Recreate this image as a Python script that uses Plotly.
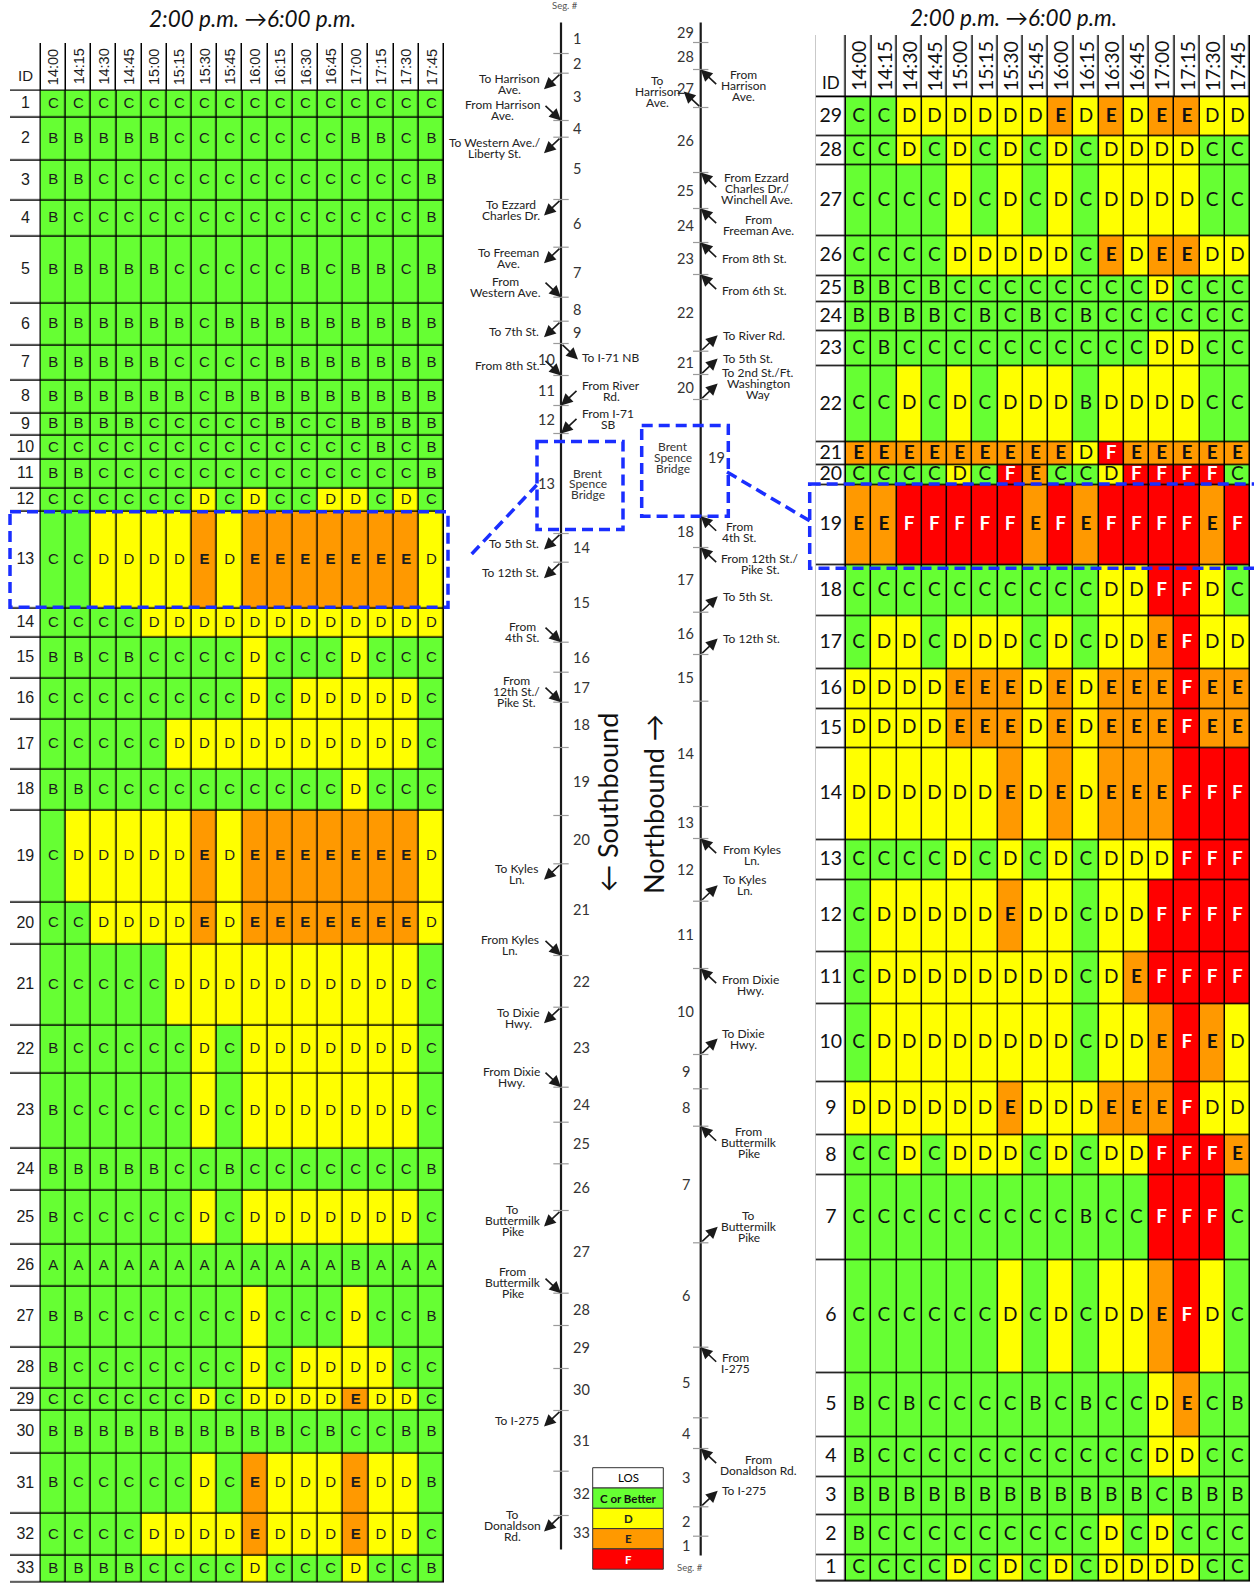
import numpy as np
import plotly.graph_objects as go

W, H = 1254, 1583

# ---------------- data ----------------
times = ["14:00", "14:15", "14:30", "14:45", "15:00", "15:15", "15:30", "15:45",
         "16:00", "16:15", "16:30", "16:45", "17:00", "17:15", "17:30", "17:45"]

los_levels = ["A", "B", "C", "D", "E", "F"]
legend_labels = ["LOS", "C or Better", "D", "E", "F"]

# Southbound table (segment ID, relative row height, LOS per 15-min period)
sb_ids = list(range(1, 34))
sb_row_h = [27, 43, 40, 36, 67.3, 41.3, 35.7, 32.3, 22.7, 24, 28.3, 23.4, 96.6, 29.4,
            40.6, 41.7, 49.3, 41.7, 91.3, 42.7, 80.7, 47.6, 75.7, 42, 54, 41.7, 60.6,
            41.7, 22, 42.3, 60.7, 41.7, 27]
sb_los = [
    "CCCCCCCCCCCCCCCC",  # 1
    "BBBBBCCCCCCCBBCB",  # 2
    "BBCCCCCCCCCCCCCB",  # 3
    "BCCCCCCCCCCCCCCB",  # 4
    "BBBBBCCCCCBCBBCB",  # 5
    "BBBBBBCBBBBBBBBB",  # 6
    "BBBBBCCCCBBBBBBB",  # 7
    "BBBBBBCBBBBBBBBB",  # 8
    "BBBBCCCCCBCCBBBB",  # 9
    "CCCCCCCCCCCCCBCB",  # 10
    "BBCCCCCCCCCCCCCB",  # 11
    "CCCCCCDCDCCDDCDC",  # 12
    "CCDDDDEDEEEEEEED",  # 13
    "CCCCDDDDDDDDDDDD",  # 14
    "BBCBCCCCDCCCDCCC",  # 15
    "CCCCCCCCDCDDDDDC",  # 16
    "CCCCCDDDDDDDDDDC",  # 17
    "BBCCCCCCCCCCDCCC",  # 18
    "CDDDDDEDEEEEEEED",  # 19
    "CCDDDDEDEEEEEEED",  # 20
    "CCCCCDDDDDDDDDDC",  # 21
    "BCCCCCDCDDDDDDDC",  # 22
    "BCCCCCDCDDDDDDDC",  # 23
    "BBBBBCCBCCCCCCCB",  # 24
    "BCCCCCDCDDDDDDDC",  # 25
    "AAAAAAAAAAAABAAA",  # 26
    "BBCCCCCCDCCCDCCB",  # 27
    "BCCCCCCCDCDDDDCC",  # 28
    "CCCCCCDCDDDDEDDC",  # 29
    "BBBBBBBBBBCBCCBB",  # 30
    "BCCCCCDCEDDDEDDB",  # 31
    "CCCCDDDDEDDDEDDC",  # 32
    "BBBBCCCCDCCCDCCB",  # 33
]

# Northbound table (listed top to bottom: segment 29 ... 1)
nb_ids = list(range(29, 0, -1))
nb_row_h = [39.4, 29, 71, 39.3, 26.7, 29, 35, 76, 22.3, 20, 80.7, 50.6, 53.4, 39.3,
            39.3, 92.4, 39.3, 72.3, 51.7, 78.3, 53.4, 40, 84.3, 113, 64.3, 40, 38.4,
            39.3, 26.7]
nb_los = [
    "CCDDDDDDEDEDEEDD",  # 29
    "CCDCDCDCDCDDDDCC",  # 28
    "CCCCDCDCDCDDDDCC",  # 27
    "CCCCDDDDDCEDEEDD",  # 26
    "BBCBCCCCCCCCDCCC",  # 25
    "BBBBCBCBCBCCCCCC",  # 24
    "CBCCCCCCCCCCDDCC",  # 23
    "CCDCDCDDDBDDDDCC",  # 22
    "EEEEEEEEEDFEEEEE",  # 21
    "CCCCDCFECCDFFFFC",  # 20
    "EEFFFFFEFEFFFFEF",  # 19
    "CCCCCCCCCCDDFFDC",  # 18
    "CDDCDDDCDCDDEFDD",  # 17
    "DDDDEEEDEDEEEFEE",  # 16
    "DDDDEEEDEDEEEFEE",  # 15
    "DDDDDDEDEDEEEFFF",  # 14
    "CCCCDCDCDCDDDFFF",  # 13
    "CDDDDDEDDCDDFFFF",  # 12
    "CDDDDDDDDCDEFFFF",  # 11
    "CDDDDDDDDCDDEFED",  # 10
    "DDDDDDEDDDEEEFDD",  # 9
    "CCDCDDDCDCDDFFFE",  # 8
    "CCCCCCCCCBCCFFFC",  # 7
    "CCCCCCDCDCDDEFDC",  # 6
    "BCBCCCCBCBCCDECB",  # 5
    "BCCCCCCCCCCCDDCC",  # 4
    "BBBBBBBBBBBBCBBB",  # 3
    "BCCCCCCCCCDCDCCC",  # 2
    "CCCCDCDCDCDDDDCC",  # 1
]

# Schematic: relative segment lengths along the route
sb_seg_len = [31, 19.7, 47.3, 16.7, 62.3, 47.7, 50, 24, 22.3, 32, 30, 28, 100, 28.7, 80,
              30, 30, 45.3, 68, 48.3, 91.7, 51.7, 80, 35, 41.6, 46.7, 82.7, 32.3, 43, 42,
              60.7, 44.3, 34]
nb_seg_len = [20, 27, 38, 65, 36, 34, 32, 76.7, 23.3, 25, 116.7, 31.3, 64.7, 42.3, 46.7,
              105.3, 32, 62.7, 67.3, 86, 34.3, 37.4, 116.6, 104.4, 70.6, 30.7, 58.3, 29.4,
              19.3]

# ramps: (segment whose end the ramp sits at, label, on/off, side)
sb_ramps = [
    (2, "To Harrison<br>Ave.", "off", "L"),
    (3, "From Harrison<br>Ave.", "on", "L"),
    (4, "To Western Ave./<br>Liberty St.", "off", "L"),
    (5, "To Ezzard<br>Charles Dr.", "off", "L"),
    (6, "To Freeman<br>Ave.", "off", "L"),
    (7, "From<br>Western Ave.", "on", "L"),
    (8, "To 7th St.", "off", "L"),
    (9, "To I-71 NB", "off", "R"),
    (10, "From 8th St.", "on", "L"),
    (11, "From River<br>Rd.", "on", "R"),
    (12, "From I-71<br>SB", "on", "R"),
    (13, "To 5th St.", "off", "L"),
    (14, "To 12th St.", "off", "L"),
    (15, "From<br>4th St.", "on", "L"),
    (17, "From<br>12th St./<br>Pike St.", "on", "L"),
    (20, "To Kyles<br>Ln.", "off", "L"),
    (21, "From Kyles<br>Ln.", "on", "L"),
    (22, "To Dixie<br>Hwy.", "off", "L"),
    (23, "From Dixie<br>Hwy.", "on", "L"),
    (26, "To<br>Buttermilk<br>Pike", "off", "L"),
    (27, "From<br>Buttermilk<br>Pike", "on", "L"),
    (30, "To I-275", "off", "L"),
    (32, "To<br>Donaldson<br>Rd.", "off", "L"),
]
nb_ramps = [
    (28, "From<br>Harrison<br>Ave.", "on", "R"),
    (27, "To<br>Harrison<br>Ave.", "off", "L"),
    (26, "From Ezzard<br>Charles Dr./<br>Winchell Ave.", "on", "R"),
    (25, "From<br>Freeman Ave.", "on", "R"),
    (24, "From 8th St.", "on", "R"),
    (23, "From 6th St.", "on", "R"),
    (22, "To River Rd.", "off", "R"),
    (21, "To 5th St.", "off", "R"),
    (20, "To 2nd St./Ft.<br>Washington<br>Way", "off", "R"),
    (19, "From<br>4th St.", "on", "R"),
    (18, "From 12th St./<br>Pike St.", "on", "R"),
    (17, "To 5th St.", "off", "R"),
    (16, "To 12th St.", "off", "R"),
    (13, "From Kyles<br>Ln.", "on", "R"),
    (12, "To Kyles<br>Ln.", "off", "R"),
    (11, "From Dixie<br>Hwy.", "on", "R"),
    (10, "To Dixie<br>Hwy.", "off", "R"),
    (8, "From<br>Buttermilk<br>Pike", "on", "R"),
    (7, "To<br>Buttermilk<br>Pike", "off", "R"),
    (6, "From<br>I-275", "on", "R"),
    (4, "From<br>Donaldson Rd.", "on", "R"),
    (3, "To I-275", "off", "R"),
]
sb_bridge_seg = 13
nb_bridge_seg = 19
sb_label_left = {10, 11, 12, 13}
nb_label_right = {19}

# ---------------- styles ----------------
GREEN, YELLOW, ORANGE, RED, WHITE = "#66FF33", "#FFFF00", "#FF9900", "#FF0000", "#FFFFFF"
BLUE = "#1A2EFF"
INK = "#1a1a1a"
code = {c: i for i, c in enumerate(los_levels)}
WHITE_CODE = 6
CS = [[0, GREEN], [2.5 / 6, GREEN], [2.5 / 6, YELLOW], [3.5 / 6, YELLOW],
      [3.5 / 6, ORANGE], [4.5 / 6, ORANGE], [4.5 / 6, RED], [5.5 / 6, RED],
      [5.5 / 6, WHITE], [1, WHITE]]
ARIAL = "Liberation Sans, Arial, sans-serif"
CAL = "Lato, Open Sans, sans-serif"

fig = go.Figure()
annotations = []
shapes = []
layout_axes = {}


def est_w(s, fs):
    w = 0.0
    for ch in s:
        if ch == " ":
            w += 0.25
        elif ch in ".,:":
            w += 0.24
        elif ch in "/-":
            w += 0.36
        elif ch in "iIlj":
            w += 0.25
        elif ch in "ftr":
            w += 0.34
        elif ch in "mwMW":
            w += 0.82
        elif ch.isupper():
            w += 0.64
        elif ch.isdigit():
            w += 0.58
        else:
            w += 0.52
    return w * fs


def multiline(x, y, xref, yref, text, anchor, xshift, yshift, font, gap):
    lines = text.split("<br>")
    n = len(lines)
    bw = max(est_w(s, font["size"]) for s in lines)
    if anchor == "right":
        cx = xshift - bw / 2
    elif anchor == "left":
        cx = xshift + bw / 2
    else:
        cx = xshift
    for j, s in enumerate(lines):
        off = (j - (n - 1) / 2) * gap
        annotations.append(dict(x=x, y=y, xref=xref, yref=yref, text=s, showarrow=False,
                                xanchor="center", yanchor="middle", xshift=cx,
                                yshift=yshift - off, font=font))


def table(xn, yn, ids, row_h, los, left_px, right_px, top_px, hdr_h, id_w, pad_l, pad_r,
          fam, cell_fs, id_fs, hdr_fs, idlab_fs, txt_col, bold_set, white_set, box_seg,
          box_pad_l, box_pad_r, box_dy):
    ncol = len(times)
    colw = (right_px - left_px) / (ncol + id_w)
    pad_r = min(pad_r, W - right_px)
    edges = np.concatenate([[0.0], np.cumsum(row_h)])
    total = edges[-1]
    centers = (edges[:-1] + edges[1:]) / 2
    bottom_px = top_px + hdr_h + total
    ybot = total - max(0.0, bottom_px - H)
    ax_sfx = xn[1:]
    layout_axes["xaxis" + ax_sfx] = dict(
        domain=[(left_px - pad_l) / W, (right_px + pad_r) / W],
        range=[-id_w - pad_l / colw, ncol + pad_r / colw], visible=False)
    layout_axes["yaxis" + ax_sfx] = dict(
        domain=[max(0.0, 1 - bottom_px / H), 1 - top_px / H],
        range=[ybot, -hdr_h], visible=False)

    shapes.append(dict(type="rect", xref=xn, yref=yn, x0=-id_w, x1=ncol, y0=-hdr_h,
                       y1=total, fillcolor="#000000", line=dict(width=0), layer="below"))
    hm = dict(colorscale=CS, zmin=0, zmax=6, showscale=False, xgap=1.5, ygap=1.5,
              hoverinfo="skip", xaxis=xn, yaxis=yn)
    z = [[code[c] for c in row] for row in los]
    xe = np.arange(ncol + 1)
    fig.add_trace(go.Heatmap(x=xe, y=edges, z=z, **hm))
    fig.add_trace(go.Heatmap(x=[-id_w, 0], y=edges, z=[[WHITE_CODE]] * len(ids), **hm))
    fig.add_trace(go.Heatmap(x=np.concatenate([[-id_w], xe]), y=[-hdr_h, 0],
                             z=[[WHITE_CODE] * (ncol + 1)], **hm))

    xs, ys, tx, tc = [], [], [], []
    for r, row in enumerate(los):
        for c, ch in enumerate(row):
            xs.append(c + 0.5)
            ys.append(centers[r])
            tx.append("<b>%s</b>" % ch if ch in bold_set else ch)
            tc.append(WHITE if ch in white_set else txt_col)
    fig.add_trace(go.Scatter(x=xs, y=ys, text=tx, mode="text",
                             textfont=dict(family=fam, size=cell_fs, color=tc),
                             hoverinfo="skip", cliponaxis=False, xaxis=xn, yaxis=yn))
    fig.add_trace(go.Scatter(x=[-id_w / 2] * len(ids), y=centers, text=[str(i) for i in ids],
                             mode="text", textfont=dict(family=fam, size=id_fs, color=txt_col),
                             hoverinfo="skip", cliponaxis=False, xaxis=xn, yaxis=yn))
    for i, t in enumerate(times):
        annotations.append(dict(x=i + 0.5, y=-hdr_h / 2, xref=xn, yref=yn, text=t,
                                textangle=-90, showarrow=False, xanchor="center",
                                yanchor="middle",
                                font=dict(family=fam, size=hdr_fs, color=txt_col)))
    annotations.append(dict(x=-id_w / 2, y=-15, xref=xn, yref=yn, text="ID", showarrow=False,
                            xanchor="center", yanchor="middle",
                            font=dict(family=fam, size=idlab_fs, color=txt_col)))
    r = ids.index(box_seg)
    shapes.append(dict(type="rect", xref=xn, yref=yn, x0=-id_w - box_pad_l / colw,
                       x1=ncol + box_pad_r / colw, y0=edges[r] - box_dy[0],
                       y1=edges[r + 1] + box_dy[1], line=dict(color=BLUE, width=3.5,
                                                              dash="11px,6px"),
                       fillcolor="rgba(0,0,0,0)", layer="above"))


table("x", "y", sb_ids, sb_row_h, sb_los, 10, 444, 43, 47.7, 1.218, 4, 6,
      ARIAL, 15, 16, 14.5, 15, "#1c1c1c", {"E"}, set(), sb_bridge_seg, 0, 4, (0, -1))
table("x2", "y2", nb_ids, nb_row_h, nb_los, 815.7, 1250, 35, 62.3, 1.2, 10, 4,
      CAL, 19, 19.5, 19.5, 17, "#111111", {"E", "F"}, {"F"}, nb_bridge_seg, 6, 12, (1, 2.5))

# ---------------- schematic ----------------
layout_axes["xaxis3"] = dict(domain=[450 / W, 800 / W], range=[450, 800], visible=False)
layout_axes["yaxis3"] = dict(domain=[0, 1], range=[H - 22.5, -22.5], visible=False)
sb_x, nb_x = 561, 700.7
sb_b = np.concatenate([[0.0], np.cumsum(sb_seg_len)])
nb_b = np.concatenate([[0.0], np.cumsum(nb_seg_len)])
nb_end = {seg: nb_b[i + 1] for i, seg in enumerate(nb_ids)}
sb_end = {seg: sb_b[i + 1] for i, seg in enumerate(sb_ids)}

for lx, bnds in ((sb_x, sb_b), (nb_x, nb_b)):
    fig.add_trace(go.Scatter(x=[lx, lx], y=[bnds[0], bnds[-1]], mode="lines",
                             line=dict(color=INK, width=2.2), hoverinfo="skip",
                             xaxis="x3", yaxis="y3"))
    fig.add_trace(go.Scatter(x=[lx] * (len(bnds) - 2), y=bnds[1:-1], mode="markers",
                             marker=dict(symbol="line-ew", size=11,
                                         line=dict(color="#9a9a9a", width=1.2)),
                             hoverinfo="skip", xaxis="x3", yaxis="y3"))

SEGF = dict(family=CAL, size=14.5, color="#333333")
for k, seg in enumerate(sb_ids):
    mid = (sb_b[k] + sb_b[k + 1]) / 2
    left = seg in sb_label_left
    annotations.append(dict(x=sb_x, y=mid, xref="x3", yref="y3", text=str(seg),
                            showarrow=False, xanchor="right" if left else "left",
                            yanchor="middle", xshift=-4 if left else 10, font=SEGF))
for i, seg in enumerate(nb_ids):
    mid = (nb_b[i] + nb_b[i + 1]) / 2
    right = seg in nb_label_right
    annotations.append(dict(x=nb_x, y=mid, xref="x3", yref="y3", text=str(seg),
                            showarrow=False, xanchor="left" if right else "center",
                            yanchor="middle", xshift=5 if right else -15, font=SEGF))

RAMPF = dict(family=CAL, size=12, color="#222222")
LINE_GAP = 11


def ramp(line_x, b, text, kind, side, flow, label_k):
    sg = -1 if side == "L" else 1
    dx, dy = sg * 17, 16
    arrow = dict(x=line_x, y=b, xref="x3", yref="y3", text="", showarrow=True,
                 arrowhead=2, arrowsize=1.45, arrowwidth=1.6, arrowcolor=INK)
    if kind == "off":
        ex, ey = dx, flow * dy
        arrow.update(xshift=ex, yshift=-ey, ax=-ex, ay=-ey)
    else:
        ex, ey = dx, -flow * dy
        arrow.update(ax=ex, ay=ey)
    annotations.append(arrow)
    multiline(line_x, b, "x3", "y3", text, "right" if sg < 0 else "left",
              ex + (-4 if sg < 0 else 4), -ey * label_k, RAMPF, LINE_GAP)


for seg, text, kind, side in sb_ramps:
    ramp(sb_x, sb_end[seg], text, kind, side, 1, 0.65 if side == "L" else 0.9)
for seg, text, kind, side in nb_ramps:
    ramp(nb_x, nb_end[seg], text, kind, side, -1, 1.0)

# Brent Spence Bridge boxes
BOXLINE = dict(color=BLUE, width=3.5, dash="11px,6px")
BRF = dict(family=CAL, size=12, color="#333333")
k = sb_ids.index(sb_bridge_seg)
shapes.append(dict(type="rect", xref="x3", yref="y3", x0=sb_x - 24, x1=sb_x + 62,
                   y0=sb_b[k] + 8, y1=sb_b[k + 1] - 4, line=BOXLINE,
                   fillcolor="rgba(0,0,0,0)"))
multiline(sb_x, (sb_b[k] + sb_b[k + 1]) / 2, "x3", "y3", "Brent<br>Spence<br>Bridge",
          "center", 27, 0, BRF, 10.5)
i = nb_ids.index(nb_bridge_seg)
shapes.append(dict(type="rect", xref="x3", yref="y3", x0=nb_x - 59, x1=nb_x + 27.6,
                   y0=nb_b[i] + 26, y1=nb_b[i + 1], line=BOXLINE,
                   fillcolor="rgba(0,0,0,0)"))
multiline(nb_x, (nb_b[i] + nb_b[i + 1]) / 2, "x3", "y3", "Brent<br>Spence<br>Bridge",
          "center", -28, 0, BRF, 11)


def P(px, py):
    return px / W, 1 - py / H


for (x0, y0), (x1, y1) in (((471.7, 554), (536.7, 485)), ((727, 472), (810, 521))):
    a, b_ = P(x0, y0)
    c, d = P(x1, y1)
    shapes.append(dict(type="line", xref="paper", yref="paper", x0=a, y0=b_, x1=c, y1=d,
                       line=BOXLINE))


def paper_text(px, py, text, font, angle=0):
    x, y = P(px, py)
    annotations.append(dict(x=x, y=y, xref="paper", yref="paper", text=text,
                            textangle=angle, showarrow=False, xanchor="center",
                            yanchor="middle", font=font))


paper_text(607, 803, "← Southbound", dict(family=CAL, size=27, color="#111111"), -90)
paper_text(654, 804, "Northbound →", dict(family=CAL, size=27, color="#111111"), -90)
for px, py in ((565, 6), (690, 1567)):
    paper_text(px, py, "Seg. #", dict(family=CAL, size=9.5, color="#555555"))
for px, py in ((252, 19), (1013, 18)):
    paper_text(px, py, "<i>2:00 p.m. →6:00 p.m.</i>",
               dict(family=CAL, size=22.5, color="#111111"))

# LOS legend
leg_cols = [WHITE, GREEN, YELLOW, ORANGE, RED]
leg_txt = ["#000000", "#111111", "#222222", "#222222", "#FFFFFF"]
lx0, lx1, ly0, lrow = 592.7, 663.3, 1467.7, 20.3
for j, (lab, col) in enumerate(zip(legend_labels, leg_cols)):
    a, top = P(lx0, ly0 + j * lrow)
    c, bot = P(lx1, ly0 + (j + 1) * lrow)
    shapes.append(dict(type="rect", xref="paper", yref="paper", x0=a, x1=c, y0=bot, y1=top,
                       fillcolor=col, line=dict(color="#333333", width=1)))
    paper_text((lx0 + lx1) / 2, ly0 + (j + 0.5) * lrow,
               lab if j == 0 else "<b>%s</b>" % lab,
               dict(family=CAL, size=11.5, color=leg_txt[j]))

fig.update_layout(width=W, height=H, margin=dict(l=0, r=0, t=0, b=0),
                  paper_bgcolor="#FFFFFF", plot_bgcolor="rgba(0,0,0,0)", showlegend=False,
                  annotations=annotations, shapes=shapes, **layout_axes)
fig.write_html("out.html", config={"displayModeBar": False},
               post_script="document.body.style.margin='0px';"
                           "document.body.style.overflow='hidden';")
